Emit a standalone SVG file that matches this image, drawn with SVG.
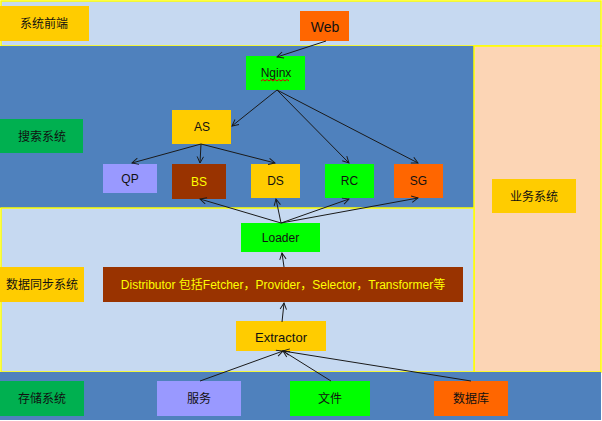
<svg xmlns="http://www.w3.org/2000/svg" width="602" height="421" viewBox="0 0 602 421">
<style>
text{font-family:"Liberation Sans","Noto Sans CJK SC",sans-serif;font-size:12px;fill:#111;text-anchor:middle;dominant-baseline:central}
.band{stroke:#FFFF00;stroke-width:1.5}
.c line{stroke:#1a1a1a;stroke-width:1;marker-end:url(#a)}
.y{fill:#FFFF00}
</style>
<defs>
<marker id="a" viewBox="0 0 10 10" refX="9" refY="5" markerWidth="8" markerHeight="8" orient="auto" markerUnits="userSpaceOnUse">
<path d="M1,1 L9,5 L1,9" fill="none" stroke="#1a1a1a" stroke-width="1.2"/>
</marker>
</defs>
<g id="bands">
<rect x="1" y="1" width="600" height="45" fill="#C6D9F1" class="band"/>
<rect x="0" y="46" width="474" height="162" fill="#4F81BD"/>
<rect x="474" y="46" width="127" height="326" fill="#FCD5B5" class="band"/>
<rect x="1" y="208" width="473" height="164" fill="#C6D9F1" class="band"/>
<rect x="0" y="372" width="601" height="48" fill="#4F81BD"/>
</g>
<g id="label-frontend"><rect x="0" y="6" width="89" height="35" fill="#FFCC00"/><text x="44" y="24">系统前端</text></g>
<g id="label-search"><rect x="0" y="119" width="83" height="34" fill="#00B050"/><text x="42" y="137">搜索系统</text></g>
<g id="label-sync"><rect x="0" y="267" width="84" height="35" fill="#FFCC00"/><text x="42" y="285">数据同步系统</text></g>
<g id="label-storage"><rect x="0" y="381" width="84" height="35" fill="#00B050"/><text x="42" y="399">存储系统</text></g>
<g id="label-business"><rect x="492" y="179" width="84" height="34" fill="#FFCC00"/><text x="534" y="197">业务系统</text></g>
<g id="web"><rect x="300" y="11" width="49" height="30" fill="#FF6600"/><text x="325" y="27" style="font-size:14px">Web</text></g>
<g id="nginx"><rect x="246" y="56" width="59" height="34" fill="#00FF00"/><text x="276" y="73">Nginx</text><path d="M261,81 l2,-1.5 l2,1.5 l2,-1.5 l2,1.5 l2,-1.5 l2,1.5 l2,-1.5 l2,1.5 l2,-1.5 l2,1.5 l2,-1.5 l2,1.5 l2,-1.5 l2,1.5" fill="none" stroke="#E00000" stroke-width="1"/></g>
<g id="as"><rect x="172" y="110" width="59" height="34" fill="#FFCC00"/><text x="202" y="127">AS</text></g>
<g id="qp"><rect x="103" y="164" width="54" height="29" fill="#9999FF"/><text x="130" y="179">QP</text></g>
<g id="bs"><rect x="172" y="164" width="54" height="35" fill="#993300"/><text x="199" y="182" class="y">BS</text></g>
<g id="ds"><rect x="251" y="164" width="49" height="34" fill="#FFCC00"/><text x="275.5" y="181">DS</text></g>
<g id="rc"><rect x="325" y="164" width="49" height="34" fill="#00FF00"/><text x="349.5" y="181">RC</text></g>
<g id="sg"><rect x="394" y="164" width="49" height="34" fill="#FF6600"/><text x="418.5" y="181">SG</text></g>
<g id="loader"><rect x="241" y="223" width="79" height="29" fill="#00FF00"/><text x="280.5" y="238">Loader</text></g>
<g id="distributor"><rect x="103" y="267" width="360" height="35" fill="#993300"/><text x="283" y="285" class="y">Distributor 包括Fetcher，Provider，Selector，Transformer等</text></g>
<g id="extractor"><rect x="236" y="321" width="90" height="30" fill="#FFCC00"/><text x="281" y="337" style="font-size:13px">Extractor</text></g>
<g id="service"><rect x="157" y="381" width="84" height="35" fill="#9999FF"/><text x="199" y="399">服务</text></g>
<g id="file"><rect x="290" y="381" width="80" height="35" fill="#00FF00"/><text x="330" y="399">文件</text></g>
<g id="db"><rect x="434" y="381" width="74" height="35" fill="#FF6600"/><text x="471" y="399">数据库</text></g>
<g id="connectors" class="c">
<line x1="326" y1="41" x2="277" y2="57"/>
<line x1="277" y1="90" x2="232" y2="126"/>
<line x1="277" y1="90" x2="349" y2="163"/>
<line x1="277" y1="90" x2="418" y2="163"/>
<line x1="201" y1="144" x2="132" y2="163"/>
<line x1="201" y1="144" x2="200" y2="163"/>
<line x1="201" y1="144" x2="275" y2="163"/>
<line x1="281" y1="223" x2="200" y2="199"/>
<line x1="281" y1="223" x2="276" y2="199"/>
<line x1="281" y1="223" x2="349" y2="199"/>
<line x1="281" y1="223" x2="418" y2="198"/>
<line x1="284" y1="267" x2="282" y2="253"/>
<line x1="282" y1="322" x2="284" y2="303"/>
<line x1="200" y1="381" x2="283" y2="351"/>
<line x1="331" y1="381" x2="283" y2="351"/>
<line x1="471" y1="381" x2="283" y2="351"/>
</g>
</svg>
